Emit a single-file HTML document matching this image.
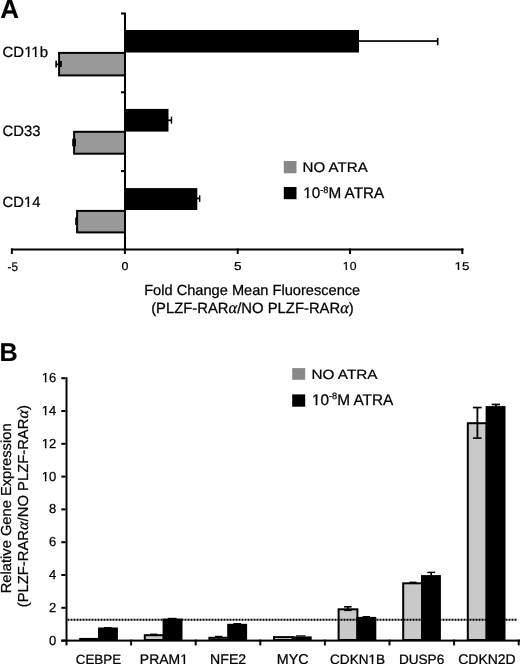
<!DOCTYPE html>
<html><head><meta charset="utf-8"><style>
html,body{margin:0;padding:0;background:#fff;width:520px;height:664px;overflow:hidden;}
body{filter:grayscale(1);}
svg{display:block;font-family:'Liberation Sans',sans-serif;}
text{stroke:#000;stroke-width:0.25px;text-rendering:geometricPrecision;}
</style></head><body>
<svg width="520" height="680" viewBox="0 0 520 680" style="font-family:'Liberation Sans',sans-serif">
<defs></defs>
<text id="t0" transform="translate(0.18,17.90) scale(1.0402,1.0402)" font-size="25" font-weight="bold" style="stroke-width:0.1px">A</text>
<text id="t1" transform="translate(2.59,56.54) scale(0.9953,0.9825)" font-size="15" font-weight="normal">CD11b</text><g transform="translate(2.59,56.54) scale(0.9953,0.9825)"><rect x="21.80" y="-1.91" width="3.42" height="3.11" fill="#fff"/><rect x="26.98" y="-1.91" width="3.10" height="3.11" fill="#fff"/><rect x="29.03" y="-1.91" width="3.42" height="3.11" fill="#fff"/><rect x="34.21" y="-1.91" width="3.10" height="3.11" fill="#fff"/></g>
<text id="t2" transform="translate(2.60,135.93) scale(0.9868,0.9948)" font-size="15" font-weight="normal">CD33</text>
<text id="t3" transform="translate(2.60,206.74) scale(0.9846,0.9857)" font-size="15" font-weight="normal">CD14</text><g transform="translate(2.60,206.74) scale(0.9846,0.9857)"><rect x="21.80" y="-1.91" width="3.42" height="3.11" fill="#fff"/><rect x="26.98" y="-1.91" width="3.10" height="3.11" fill="#fff"/></g>
<text id="t4" transform="translate(7.54,270.63) scale(0.8984,0.9586)" font-size="13" font-weight="normal">-5</text>
<text id="t5" transform="translate(121.41,270.26) scale(0.9614,0.8750)" font-size="13" font-weight="normal">0</text>
<text id="t6" transform="translate(233.98,270.35) scale(1.0368,0.8947)" font-size="13" font-weight="normal">5</text>
<text id="t7" transform="translate(342.86,270.48) scale(0.9359,0.8901)" font-size="13" font-weight="normal">10</text><g transform="translate(342.86,270.48) scale(0.9359,0.8901)"><rect x="-0.01" y="-1.76" width="3.07" height="2.96" fill="#fff"/><rect x="4.64" y="-1.76" width="2.76" height="2.96" fill="#fff"/></g>
<text id="t8" transform="translate(454.53,270.26) scale(1.0289,0.8734)" font-size="13" font-weight="normal">15</text><g transform="translate(454.53,270.26) scale(1.0289,0.8734)"><rect x="-0.01" y="-1.76" width="3.07" height="2.96" fill="#fff"/><rect x="4.64" y="-1.76" width="2.76" height="2.96" fill="#fff"/></g>
<text id="t9" transform="translate(302.60,171.54) scale(1.0060,0.9289)" font-size="15" font-weight="normal">NO ATRA</text>
<text id="t10" transform="translate(303.24,198.27) scale(1.0194,1.0194)" font-size="15" font-weight="normal">10<tspan font-size="9" dy="-5.5">-8</tspan><tspan dy="5.5">M ATRA</tspan></text><g transform="translate(303.24,198.27) scale(1.0194,1.0194)"><rect x="0.14" y="-1.91" width="3.42" height="3.11" fill="#fff"/><rect x="5.32" y="-1.91" width="3.10" height="3.11" fill="#fff"/></g>
<text id="t11" transform="translate(144.17,295.40) scale(1.0078,1.0078)" font-size="14.5" font-weight="normal">Fold Change Mean Fluorescence</text>
<text id="t12" transform="translate(151.13,312.70) scale(1.0229,1.0229)" font-size="14.5" font-weight="normal">(PLZF-RAR<tspan font-family="Liberation Serif" font-style="italic" font-size="16">&#945;</tspan>/NO PLZF-RAR<tspan font-family="Liberation Serif" font-style="italic" font-size="16">&#945;</tspan>)</text>
<text id="t13" transform="translate(-0.47,361.10) scale(1.0091,1.0260)" font-size="25" font-weight="bold" style="stroke-width:0.1px">B</text>
<text id="t14" transform="translate(311.49,378.66) scale(1.0202,0.8925)" font-size="15" font-weight="normal">NO ATRA</text>
<text id="t15" transform="translate(311.93,404.97) scale(1.0246,1.0246)" font-size="15" font-weight="normal">10<tspan font-size="9" dy="-5.5">-8</tspan><tspan dy="5.5">M ATRA</tspan></text><g transform="translate(311.93,404.97) scale(1.0246,1.0246)"><rect x="0.14" y="-1.91" width="3.42" height="3.11" fill="#fff"/><rect x="5.32" y="-1.91" width="3.10" height="3.11" fill="#fff"/></g>
<text id="t16" transform="translate(75.76,663.80) scale(0.9902,0.9902)" font-size="13.5" font-weight="normal">CEBPE</text>
<text id="t17" transform="translate(139.86,663.80) scale(1.0349,1.0349)" font-size="13.5" font-weight="normal">PRAM1</text><g transform="translate(139.86,663.80) scale(1.0349,1.0349)"><rect x="39.03" y="-1.80" width="3.16" height="3.00" fill="#fff"/><rect x="43.81" y="-1.80" width="2.85" height="3.00" fill="#fff"/></g>
<text id="t18" transform="translate(210.10,663.80) scale(1.0455,1.0455)" font-size="13.5" font-weight="normal">NFE2</text>
<text id="t19" transform="translate(276.84,663.80) scale(1.0599,1.0599)" font-size="13.5" font-weight="normal">MYC</text>
<text id="t20" transform="translate(330.06,663.80) scale(1.0041,1.0041)" font-size="13.5" font-weight="normal">CDKN1B</text><g transform="translate(330.06,663.80) scale(1.0041,1.0041)"><rect x="38.28" y="-1.80" width="3.16" height="3.00" fill="#fff"/><rect x="43.06" y="-1.80" width="2.85" height="3.00" fill="#fff"/></g>
<text id="t21" transform="translate(398.89,663.80) scale(1.0080,1.0080)" font-size="13.5" font-weight="normal">DUSP6</text>
<text id="t22" transform="translate(458.19,663.80) scale(1.0358,1.0358)" font-size="13.5" font-weight="normal">CDKN2D</text>
<text id="t23" transform="translate(11.10,593.24) rotate(-90) scale(1.0128,1)" font-size="14.5" font-weight="normal">Relative Gene Expression</text>
<text id="t24" transform="translate(28.00,607.27) rotate(-90) scale(1.0208,1)" font-size="14.5" font-weight="normal">(PLZF-RAR<tspan font-family="Liberation Serif" font-style="italic" font-size="16">&#945;</tspan>/NO PLZF-RAR<tspan font-family="Liberation Serif" font-style="italic" font-size="16">&#945;</tspan>)</text>
<rect x="124.00" y="30.00" width="235.00" height="22.50" fill="#000"/>
<rect x="58.10" y="51.90" width="67.90" height="24.50" fill="#000"/>
<rect x="60.10" y="53.90" width="63.90" height="20.50" fill="#999999"/>
<rect x="124.00" y="108.90" width="44.50" height="22.70" fill="#000"/>
<rect x="73.10" y="130.80" width="52.90" height="23.90" fill="#000"/>
<rect x="75.10" y="132.80" width="48.90" height="19.90" fill="#999999"/>
<rect x="124.00" y="188.10" width="73.30" height="21.90" fill="#000"/>
<rect x="76.10" y="209.90" width="49.90" height="23.50" fill="#000"/>
<rect x="78.10" y="211.90" width="45.90" height="19.50" fill="#999999"/>
<rect x="359.00" y="40.20" width="79.00" height="1.70" fill="#000"/>
<rect x="436.90" y="37.90" width="1.60" height="7.30" fill="#000"/>
<rect x="168.00" y="119.40" width="3.50" height="1.80" fill="#000"/>
<rect x="170.80" y="116.70" width="1.40" height="7.00" fill="#000"/>
<rect x="197.00" y="197.60" width="3.00" height="1.70" fill="#000"/>
<rect x="199.00" y="195.30" width="1.40" height="6.60" fill="#000"/>
<rect x="55.30" y="60.60" width="1.60" height="6.90" fill="#000"/>
<rect x="56.00" y="63.50" width="5.50" height="1.70" fill="#000"/>
<rect x="59.80" y="61.00" width="2.00" height="6.00" fill="#000"/>
<rect x="72.20" y="138.80" width="3.80" height="7.50" fill="#000"/>
<rect x="75.20" y="217.50" width="2.80" height="7.50" fill="#000"/>
<rect x="124.00" y="12.50" width="2.00" height="238.00" fill="#000"/>
<rect x="121.00" y="12.50" width="3.00" height="2.00" fill="#000"/>
<rect x="121.00" y="91.30" width="3.00" height="2.00" fill="#000"/>
<rect x="121.00" y="170.10" width="3.00" height="2.00" fill="#000"/>
<rect x="11.00" y="248.50" width="452.50" height="2.00" fill="#000"/>
<rect x="10.85" y="248.50" width="2.00" height="5.50" fill="#000"/>
<rect x="123.90" y="248.50" width="2.00" height="5.50" fill="#000"/>
<rect x="236.70" y="248.50" width="2.00" height="5.50" fill="#000"/>
<rect x="349.00" y="248.50" width="2.00" height="5.50" fill="#000"/>
<rect x="461.30" y="248.50" width="2.00" height="5.50" fill="#000"/>
<rect x="283.80" y="161.00" width="12.70" height="12.30" fill="#888888"/>
<rect x="283.80" y="187.00" width="12.70" height="12.20" fill="#000"/>
<rect x="79.20" y="637.90" width="20.80" height="3.10" fill="#000"/>
<rect x="81.20" y="639.90" width="16.80" height="-0.90" fill="#c9c9c9"/>
<rect x="98.00" y="627.50" width="19.90" height="13.50" fill="#000"/>
<rect x="143.80" y="634.20" width="20.80" height="6.80" fill="#000"/>
<rect x="145.80" y="636.20" width="16.80" height="2.80" fill="#c9c9c9"/>
<rect x="162.60" y="618.60" width="19.90" height="22.40" fill="#000"/>
<rect x="208.40" y="636.80" width="20.80" height="4.20" fill="#000"/>
<rect x="210.40" y="638.80" width="16.80" height="0.20" fill="#c9c9c9"/>
<rect x="227.20" y="623.80" width="19.90" height="17.20" fill="#000"/>
<rect x="273.00" y="636.10" width="20.80" height="4.90" fill="#000"/>
<rect x="275.00" y="638.10" width="16.80" height="0.90" fill="#c9c9c9"/>
<rect x="291.80" y="636.40" width="19.90" height="4.60" fill="#000"/>
<rect x="337.60" y="608.30" width="20.80" height="32.70" fill="#000"/>
<rect x="339.60" y="610.30" width="16.80" height="28.70" fill="#c9c9c9"/>
<rect x="356.40" y="616.90" width="19.90" height="24.10" fill="#000"/>
<rect x="402.20" y="582.30" width="20.80" height="58.70" fill="#000"/>
<rect x="404.20" y="584.30" width="16.80" height="54.70" fill="#c9c9c9"/>
<rect x="421.00" y="575.10" width="19.90" height="65.90" fill="#000"/>
<rect x="466.80" y="422.20" width="20.80" height="218.80" fill="#000"/>
<rect x="468.80" y="424.20" width="16.80" height="214.80" fill="#c9c9c9"/>
<rect x="485.60" y="406.10" width="19.90" height="234.90" fill="#000"/>
<rect x="472.90" y="406.70" width="8.70" height="1.70" fill="#000"/>
<rect x="472.90" y="437.30" width="8.70" height="1.60" fill="#000"/>
<rect x="476.50" y="407.00" width="1.80" height="31.00" fill="#000"/>
<rect x="491.70" y="403.60" width="8.30" height="1.70" fill="#000"/>
<rect x="495.00" y="404.00" width="1.80" height="2.50" fill="#000"/>
<rect x="427.30" y="571.70" width="7.80" height="1.40" fill="#000"/>
<rect x="430.30" y="572.00" width="1.70" height="3.50" fill="#000"/>
<rect x="344.10" y="606.00" width="7.50" height="1.60" fill="#000"/>
<rect x="344.10" y="609.60" width="7.50" height="1.50" fill="#000"/>
<rect x="347.00" y="606.50" width="1.60" height="3.50" fill="#000"/>
<rect x="362.60" y="616.00" width="7.40" height="1.50" fill="#000"/>
<rect x="150.00" y="633.60" width="7.50" height="1.40" fill="#000"/>
<rect x="104.00" y="627.00" width="7.50" height="1.20" fill="#000"/>
<rect x="409.50" y="581.60" width="7.00" height="1.40" fill="#000"/>
<rect x="296.00" y="635.30" width="9.50" height="1.20" fill="#000"/>
<rect x="168.00" y="617.80" width="8.50" height="1.20" fill="#000"/>
<rect x="233.50" y="623.00" width="7.50" height="1.30" fill="#000"/>
<rect x="215.00" y="635.80" width="7.50" height="1.20" fill="#000"/>
<line x1="67.5" y1="619.7" x2="517" y2="619.7" stroke="#000" stroke-width="2" stroke-dasharray="2 1"/>
<rect x="65.50" y="377.20" width="2.00" height="268.20" fill="#000"/>
<rect x="61.30" y="639.60" width="4.20" height="2.00" fill="#000"/>
<text id="t99" x="56.3" y="644.60" font-size="13" text-anchor="end">0</text>
<rect x="61.30" y="606.80" width="4.20" height="2.00" fill="#000"/>
<text id="t101" x="56.3" y="611.80" font-size="13" text-anchor="end">2</text>
<rect x="61.30" y="574.00" width="4.20" height="2.00" fill="#000"/>
<text id="t103" x="56.3" y="579.00" font-size="13" text-anchor="end">4</text>
<rect x="61.30" y="541.20" width="4.20" height="2.00" fill="#000"/>
<text id="t105" x="56.3" y="546.20" font-size="13" text-anchor="end">6</text>
<rect x="61.30" y="508.40" width="4.20" height="2.00" fill="#000"/>
<text id="t107" x="56.3" y="513.40" font-size="13" text-anchor="end">8</text>
<rect x="61.30" y="475.60" width="4.20" height="2.00" fill="#000"/>
<text id="t109" x="56.3" y="480.60" font-size="13" text-anchor="end">10</text><g transform=""><rect x="41.82" y="478.84" width="3.07" height="2.96" fill="#fff"/><rect x="46.47" y="478.84" width="2.76" height="2.96" fill="#fff"/></g>
<rect x="61.30" y="442.80" width="4.20" height="2.00" fill="#000"/>
<text id="t111" x="56.3" y="447.80" font-size="13" text-anchor="end">12</text><g transform=""><rect x="41.82" y="446.04" width="3.07" height="2.96" fill="#fff"/><rect x="46.47" y="446.04" width="2.76" height="2.96" fill="#fff"/></g>
<rect x="61.30" y="410.00" width="4.20" height="2.00" fill="#000"/>
<text id="t113" x="56.3" y="415.00" font-size="13" text-anchor="end">14</text><g transform=""><rect x="41.82" y="413.24" width="3.07" height="2.96" fill="#fff"/><rect x="46.47" y="413.24" width="2.76" height="2.96" fill="#fff"/></g>
<rect x="61.30" y="377.20" width="4.20" height="2.00" fill="#000"/>
<text id="t115" x="56.3" y="382.20" font-size="13" text-anchor="end">16</text><g transform=""><rect x="41.82" y="380.44" width="3.07" height="2.96" fill="#fff"/><rect x="46.47" y="380.44" width="2.76" height="2.96" fill="#fff"/></g>
<rect x="61.30" y="639.60" width="458.70" height="2.00" fill="#000"/>
<rect x="130.10" y="639.60" width="2.00" height="5.80" fill="#000"/>
<rect x="194.70" y="639.60" width="2.00" height="5.80" fill="#000"/>
<rect x="259.30" y="639.60" width="2.00" height="5.80" fill="#000"/>
<rect x="323.90" y="639.60" width="2.00" height="5.80" fill="#000"/>
<rect x="388.50" y="639.60" width="2.00" height="5.80" fill="#000"/>
<rect x="453.10" y="639.60" width="2.00" height="5.80" fill="#000"/>
<rect x="517.70" y="639.60" width="2.00" height="5.80" fill="#000"/>
<rect x="292.20" y="368.10" width="13.00" height="11.70" fill="#888888"/>
<rect x="292.20" y="394.40" width="13.00" height="12.30" fill="#000"/>
</svg>
</body></html>
